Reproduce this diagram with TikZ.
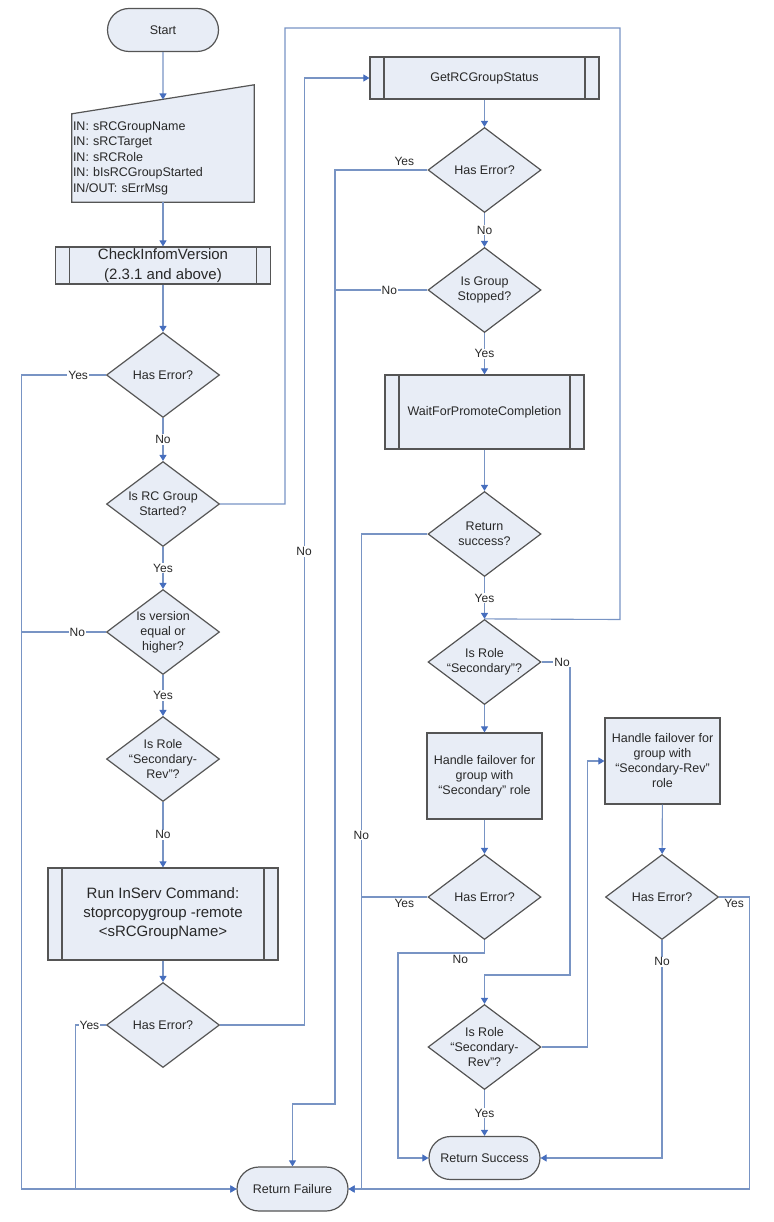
\documentclass[tikz,border=0pt]{standalone}
\usepackage{fontspec}
\setmainfont{Liberation Sans}
\usepackage{tikz}
\usetikzlibrary{arrows.meta, positioning, shapes.geometric, shapes.misc, backgrounds}
\definecolor{ShapeFill}{RGB}{232, 237, 246}
\definecolor{EdgeGray}{RGB}{85, 85, 85}
\definecolor{LinkBlue}{RGB}{120, 148, 196}
\definecolor{TipBlue}{RGB}{70, 110, 190}
\definecolor{InkGray}{RGB}{40, 40, 40}

\begin{document}
\begin{tikzpicture}[
    x=1pt, y=-1pt,
    every node/.style={font=\fontsize{12.5}{15}\selectfont, text=InkGray},
    terminal/.style={rounded rectangle, draw=EdgeGray, line width=1.2pt, fill=ShapeFill, minimum width=115pt, minimum height=43pt, inner sep=2pt},
    decision/.style={diamond, draw=EdgeGray, line width=1.2pt, fill=ShapeFill, aspect=1.33, inner sep=-5pt, minimum width=113pt, minimum height=85pt, align=center},
    process/.style={rectangle, draw=EdgeGray, line width=1.2pt, fill=ShapeFill, minimum width=115pt, minimum height=86pt, inner sep=2pt, align=center},
    subproc/.style={rectangle, draw=EdgeGray, line width=1.2pt, fill=ShapeFill, inner sep=0pt, align=center,
        path picture={\draw[EdgeGray, line width=1.2pt]
            ([xshift=14pt]path picture bounding box.north west) -- ([xshift=14pt]path picture bounding box.south west)
            ([xshift=-14pt]path picture bounding box.north east) -- ([xshift=-14pt]path picture bounding box.south east);}},
    flow/.style={draw=LinkBlue, line width=1.1pt, -{Triangle[width=7pt, length=6pt, color=TipBlue]}},
    wire/.style={draw=LinkBlue, line width=1.1pt},
    answer/.style={fill=white, inner sep=1pt, font=\fontsize{12}{14}\selectfont}
]
\useasboundingbox (0,0) rectangle (773,1222);

% Left column
\node[terminal] (start) at (163,30) {Start};
\node[align=left, inner sep=1pt, text width=180pt, minimum height=88pt, font=\fontsize{12.5}{15.5}\selectfont] (input) at (163,158)
    {IN: sRCGroupName\\IN: sRCTarget\\IN: sRCRole\\IN: bIsRCGroupStarted\\IN/OUT: sErrMsg};
\begin{scope}[on background layer]
    \filldraw[fill=ShapeFill, draw=EdgeGray, line width=1.2pt] (input.south west) -- (input.south east)
        -- ([yshift=29pt]input.north east) -- (input.north west) -- cycle;
\end{scope}
\coordinate (intop) at (163,99.5);
\node[subproc, minimum width=215pt, minimum height=37pt, font=\fontsize{15}{19.5}\selectfont] (check) at (163,265.5) {CheckInfomVersion\\(2.3.1 and above)};
\node[decision] (he1) at (163,375) {Has Error?};
\node[decision] (rcs) at (163,504) {Is RC Group\\Started?};
\node[decision] (ver) at (163,632) {Is version\\equal or\\higher?};
\node[decision] (rsr) at (163,759) {Is Role\\``Secondary-\\Rev''?};
\node[subproc, minimum width=230pt, minimum height=92pt, font=\fontsize{15}{19}\selectfont] (run) at (163,914) {Run InServ Command:\\stoprcopygroup -remote\\<sRCGroupName>};
\node[decision] (he3) at (163,1025) {Has Error?};

% Right column
\node[subproc, minimum width=229pt, minimum height=42pt] (get) at (484.5,78) {GetRCGroupStatus};
\node[decision] (he2) at (484.5,170) {Has Error?};
\node[decision] (igs) at (484.5,290) {Is Group\\Stopped?};
\node[subproc, minimum width=199pt, minimum height=74pt] (wait) at (484.5,412) {WaitForPromoteCompletion};
\node[decision] (rsu) at (484.5,534) {Return\\success?};
\node[decision] (irs) at (484.5,662) {Is Role\\``Secondary''?};
\node[process] (hfs) at (484.5,776) {Handle failover for\\group with\\``Secondary'' role};
\node[decision] (heS) at (484.5,897) {Has Error?};
\node[decision] (irr) at (484.5,1047) {Is Role\\``Secondary-\\Rev''?};
\node[process] (hfr) at (662.5,761) {Handle failover for\\group with\\``Secondary-Rev''\\role};
\node[decision] (heR) at (662,897) {Has Error?};

% End points
\node[terminal] (succ) at (484.5,1158) {Return Success};
\node[terminal, minimum height=44pt] (fail) at (292.5,1189) {Return Failure};

% Main flow
\draw[flow] (start) -- (intop);
\draw[flow] (input) -- (check);
\draw[flow] (check) -- (he1);
\draw[flow] (he1) -- node[answer]{No} (rcs);
\draw[flow] (rcs) -- node[answer]{Yes} (ver);
\draw[flow] (ver) -- node[answer]{Yes} (rsr);
\draw[flow] (rsr) -- node[answer]{No} (run);
\draw[flow] (run) -- (he3);
\draw[flow] (get) -- (he2);
\draw[flow] (he2) -- node[answer]{No} (igs);
\draw[flow] (igs) -- node[answer]{Yes} (wait);
\draw[flow] (wait) -- (rsu);
\draw[flow] (rsu) -- node[answer]{Yes} (irs);
\draw[flow] (irs) -- (hfs);
\draw[flow] (hfs) -- (heS);
\draw[flow] (irr) -- node[answer]{Yes} (succ);
\draw[flow] (hfr) -- (heR);

% Branches
\draw[flow] (he1.west) -- node[answer, pos=0.33]{Yes} ++(-84,0) |- (fail.west);
\draw[wire] (ver.west) -- node[answer, pos=0.34]{No} ++(-84,0);
\draw[flow] (he3.west) -- node[answer, pos=0.55]{Yes} ++(-30,0) |- (fail.west);
\draw[flow] (he3.east) -- ++(84,0) |- node[answer, pos=0.25]{No} (get.west);
\draw[wire] (rcs.east) -| (285,28) -| (620,619.5) -- (irs.north);
\draw[flow] (he2.west) -| node[above, pos=0.125, font=\fontsize{12}{14}\selectfont]{Yes} (335,1104) -| (fail.north);
\draw[wire] (igs.west) -- node[answer, pos=0.41]{No} ++(-93,0);
\draw[flow] (rsu.west) -- ++(-66,0) |- node[answer, pos=0.23]{No} (fail.east);
\draw[wire] (heS.west) -- node[answer, pos=0.35, yshift=-6pt]{Yes} ++(-66,0);
\draw[flow] (heS.south) |- node[answer, pos=0.64, yshift=-6pt]{No} (398,953) |- (succ.west);
\draw[flow] (irs.east) -| node[answer, pos=0.36]{No} (570,975) -| (irr.north);
\draw[flow] (irr.east) -- ++(46,0) |- (hfr.west);
\draw[flow] (heR.east) -- node[answer, pos=0.5, yshift=-6pt]{Yes} ++(30,0) |- (fail.east);
\draw[flow] (heR.south) |- node[answer, pos=0.05]{No} (succ.east);

\end{tikzpicture}
\end{document}
